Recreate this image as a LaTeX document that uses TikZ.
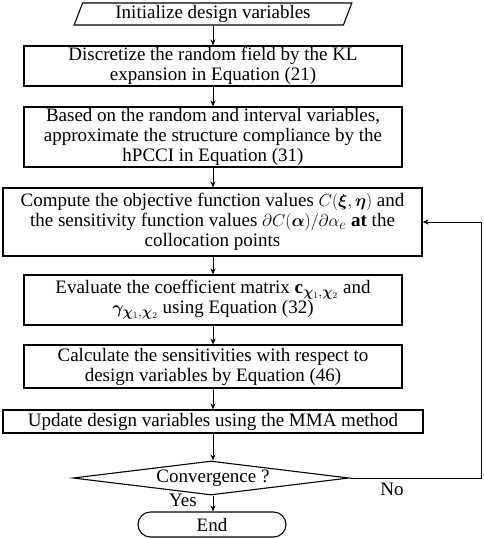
\documentclass[tikz,border=0pt]{standalone}
\usepackage{fontspec}
\usepackage{amsmath,amssymb,bm}
\setmainfont{Liberation Serif}
\usetikzlibrary{shapes.geometric,shapes.misc,arrows.meta}
\begin{document}
\begin{tikzpicture}[x=1pt,y=-1pt,
  every node/.style={font=\fontsize{19}{20}\selectfont},
  proc/.style={draw,line width=1.1pt,minimum width=378pt,inner sep=0pt,align=center},
  arr/.style={-{Stealth[length=6pt,width=5pt]},line width=1pt},
  lbl/.style={inner sep=0pt}]
\useasboundingbox (0,0) rectangle (484,539);
\node[draw,line width=1.1pt,trapezium,trapezium left angle=70,trapezium right angle=110,trapezium stretches=true,minimum width=278pt,minimum height=22pt,inner sep=0pt] (p) at (213,14) {Initialize design variables};
\node[proc,minimum height=40pt] (b2) at (213,66) {Discretize the random field by the KL\\expansion in Equation (21)};
\node[proc,minimum height=60pt] (b3) at (213,137) {Based on the random and interval variables,\\approximate the structure compliance by the\\hPCCI in Equation (31)};
\node[proc,minimum width=419pt,minimum height=68pt] (b4) at (212.5,222) {Compute the objective function values $C(\bm{\xi},\bm{\eta})$ and\\the sensitivity function values $\partial C(\bm{\alpha})/\partial\alpha_e$ \textbf{at} the\\collocation points};
\node[proc,minimum height=50pt] (b5) at (213,300) {Evaluate the coefficient matrix $\mathbf{c}_{\bm{\chi}_1,\bm{\chi}_2}$ and\\$\bm{\gamma}_{\bm{\chi}_1,\bm{\chi}_2}$ using Equation (32)};
\node[proc,minimum height=43pt] (b6) at (213,366.5) {Calculate the sensitivities with respect to\\design variables by Equation (46)};
\node[proc,minimum width=420pt,minimum height=23pt] (b7) at (213,421.5) {Update design variables using the MMA method};
\node[draw,line width=1.1pt,diamond,aspect=8,minimum width=276pt,minimum height=34pt,inner sep=0pt] (d) at (211,478) {};
\node[lbl] at (213,478) {Convergence ?};
\node[draw,line width=1.1pt,rounded rectangle,minimum width=148pt,minimum height=25pt,inner sep=0pt] (e) at (212,524.5) {End};
\coordinate (r) at (481,478);
\draw[arr] (p.south -| 213,0) -- (b2.north -| 213,0);
\draw[arr] (b2.south -| 213,0) -- (b3.north -| 213,0);
\draw[arr] (b3.south -| 213,0) -- (b4.north -| 213,0);
\draw[arr] (b4.south -| 213,0) -- (b5.north -| 213,0);
\draw[arr] (b5.south -| 213,0) -- (b6.north -| 213,0);
\draw[arr] (b6.south -| 213,0) -- (b7.north -| 213,0);
\draw[arr] (b7.south -| 213,0) -- (d.north -| 213,0);
\draw[arr] (d.south -| 213,0) -- (e.north -| 213,0);
\draw[arr] (d.east) -- (r) |- (b4.east);
\node[lbl] (no) at (392,489) {No};
\node[lbl] (yes) at (183,500) {Yes};
\end{tikzpicture}
\end{document}
